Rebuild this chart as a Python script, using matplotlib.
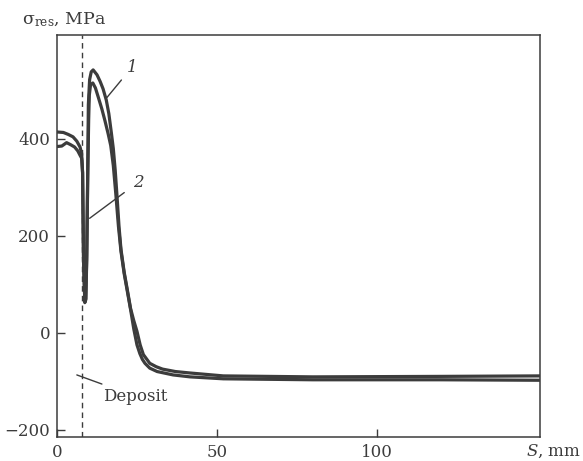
import matplotlib.pyplot as plt

# residual stress along the weld
s1 = [0, 2, 3.5, 5, 6.2, 7.2, 7.7, 8.0, 8.3, 8.7, 9.0, 9.3, 9.6, 9.8, 10.2, 10.7, 11.3, 12.5, 13.5, 14.4,
      15.4, 16.2, 17, 17.6, 18.2, 18.8, 19.4, 20, 21, 22, 23, 24, 25, 26, 27, 29, 31, 33, 37, 41.6,
      52, 80, 120, 151]
sig1 = [414, 413, 409, 404, 395, 383, 370, 330, 150, 65, 70, 160, 330, 470, 522, 538, 542, 532, 518, 503,
        480, 452, 412, 380, 335, 278, 218, 172, 125, 88, 50, 25, 3, -25, -45, -63, -70, -75, -80, -83,
        -89, -91, -90, -89]

s2 = [0, 1.5, 3, 4.2, 5.5, 6.5, 7.2, 7.7, 8.0, 8.3, 8.7, 9.0, 9.3, 9.6, 9.9, 10.1, 10.5, 11.2, 12, 12.8,
      14, 15, 16, 16.8, 17.6, 18.4, 19.2, 20, 21, 22, 23, 24, 25, 25.9, 26.7, 27.5, 29, 31.3, 36.3, 41.6,
      52, 80, 120, 151]
sig2 = [384, 385, 392, 388, 383, 375, 366, 360, 330, 150, 62, 68, 150, 320, 440, 490, 512, 515, 505, 488,
        462, 437, 410, 386, 345, 285, 220, 168, 122, 85, 48, 8, -25, -43, -55, -63, -73, -80, -87, -91,
        -95, -97, -97, -98]

deposit_s = 7.8

xticks = [0, 50, 100]
yticks = [-200, 0, 200, 400]
ytick_labels = ['\u2212200', '0', '200', '400']

plt.rcParams['font.family'] = ['DejaVu Serif']
plt.rcParams['mathtext.fontset'] = 'custom'
plt.rcParams['mathtext.rm'] = 'DejaVu Serif'
plt.rcParams['mathtext.it'] = 'DejaVu Serif:italic'

fig = plt.figure(figsize=(5.83, 4.61), dpi=100)
ax = fig.add_axes([57/583, 1-437/461, (540-57)/583, (437-35)/461])

col = '#3c3c3c'
ax.plot(s1, sig1, color=col, lw=2.3, solid_joinstyle='round')
ax.plot(s2, sig2, color=col, lw=2.3, solid_joinstyle='round')
ax.axvline(deposit_s, color=col, lw=1.0, ls=(0, (4, 3)))

ax.set_xlim(0, 151)
ax.set_ylim(-215, 614)
ax.set_xticks(xticks)
ax.set_yticks(yticks)
ax.set_yticklabels(ytick_labels)
ax.tick_params(direction='in', length=6, width=1, labelsize=12, colors=col, pad=5)
for sp in ax.spines.values():
    sp.set_color(col)
    sp.set_linewidth(1.1)

# curve labels with leader lines
ax.annotate('1', xy=(15.6, 485), xytext=(23.5, 548), fontsize=12, style='italic', color=col,
            ha='center', va='center',
            arrowprops=dict(arrowstyle='-', color=col, lw=1.0, shrinkB=0, shrinkA=3))
ax.annotate('2', xy=(10.2, 236), xytext=(25.3, 310), fontsize=12, style='italic', color=col,
            ha='center', va='center',
            arrowprops=dict(arrowstyle='-', color=col, lw=1.0, shrinkB=0, shrinkA=5))
ax.annotate('Deposit', xy=(6.2, -87), xytext=(14.5, -131), fontsize=12, color=col,
            ha='left', va='center',
            arrowprops=dict(arrowstyle='-', color=col, lw=1.0, shrinkB=0, shrinkA=2))

fig.text(22/583, 1-20/461, r'$\mathrm{\sigma}_{\mathrm{res}}$, MPa', fontsize=12.5, color=col,
         va='center', ha='left')
fig.text(581/583, 1-451/461, r'$S$, mm', fontsize=12, color=col, va='center', ha='right')

fig.savefig('out.png', dpi=100)
